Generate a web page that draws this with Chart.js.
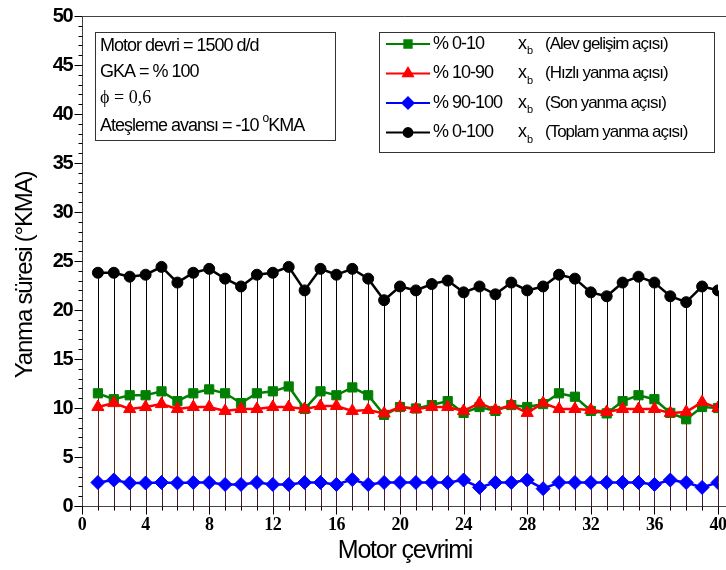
<!DOCTYPE html>
<html>
<head>
<meta charset="utf-8">
<script src="https://cdn.jsdelivr.net/npm/chart.js@4.4.1/dist/chart.umd.min.js"></script>
<style>
  html, body { margin: 0; padding: 0; background: #fff; }
  #wrap { width: 726px; height: 570px; position: relative; }
</style>
</head>
<body>
<div id="wrap"><canvas id="chart"></canvas></div>
<script>
// 40 motor çevrimi
const cycles = [1,2,3,4,5,6,7,8,9,10,11,12,13,14,15,16,17,18,19,20,
  21,22,23,24,25,26,27,28,29,30,31,32,33,34,35,36,37,38,39,40];

// % 0-10 xb (Alev gelişim açısı)
const alevGelisim = [11.5,10.9,11.3,11.3,11.7,10.7,11.5,11.9,11.5,10.5,11.5,11.7,12.2,9.9,11.7,11.3,12.1,11.3,9.3,10.1,
  9.95,10.3,10.7,9.5,10.1,9.7,10.3,10.1,10.4,11.5,11.15,9.7,9.45,10.7,11.3,10.9,9.5,8.85,10.1,10.0];
// % 10-90 xb (Hızlı yanma açısı)
const hizliYanma = [10.1,10.5,9.9,10.1,10.4,9.9,10.1,10.1,9.7,9.9,9.9,10.1,10.1,9.9,10.2,10.2,9.7,9.8,9.45,10.1,
  9.9,10.1,10.1,9.7,10.5,9.8,10.3,9.5,10.5,9.9,9.9,9.8,9.6,9.9,9.9,9.9,9.5,9.6,10.6,10.0];
// % 90-100 xb (Son yanma açısı)
const sonYanma = [2.4,2.65,2.35,2.35,2.4,2.35,2.4,2.4,2.2,2.2,2.4,2.2,2.2,2.4,2.4,2.2,2.7,2.2,2.4,2.4,
  2.4,2.4,2.4,2.65,1.9,2.4,2.4,2.65,1.77,2.4,2.4,2.4,2.4,2.4,2.4,2.2,2.65,2.4,1.9,2.4];
// % 0-100 xb (Toplam yanma açısı)
const toplamYanma = [23.8,23.8,23.4,23.6,24.4,22.8,23.8,24.2,23.2,22.4,23.6,23.8,24.4,22.0,24.2,23.6,24.2,23.2,21.0,22.4,
  22.0,22.65,23.0,21.8,22.4,21.6,22.8,22.0,22.4,23.6,23.2,21.8,21.4,22.8,23.4,22.8,21.4,20.8,22.4,22.0];

const xTicks = [0,4,8,12,16,20,24,28,32,36,40];
const yTicks = [0,5,10,15,20,25,30,35,40,45,50];

const seriesLabels = ['% 0-10', '% 10-90', '% 90-100', '% 0-100'];
const seriesNotes = ['(Alev gelişim açısı)', '(Hızlı yanma açısı)', '(Son yanma açısı)', '(Toplam yanma açısı)'];
const infoLines = ['Motor devri = 1500 d/d', 'GKA = % 100', 'ϕ = 0,6', 'Ateşleme avansı = -10 '];

const SANS = '"Liberation Sans", Arial, sans-serif';
const SERIF = '"Liberation Serif", "Times New Roman", serif';

const toPts = (arr) => arr.map((v, i) => ({ x: cycles[i], y: v }));

// eksenler, çentikler, düşey çizgiler ve kutular
const decor = {
  id: 'decor',
  beforeDatasetsDraw(chart) {
    const ctx = chart.ctx;
    const xs = chart.scales.x, ys = chart.scales.y;
    const y0 = ys.getPixelForValue(0);
    ctx.save();
    ctx.lineWidth = 1;
    cycles.forEach((c, i) => {
      const px = Math.round(xs.getPixelForValue(c)) + 0.5;
      const yTop = ys.getPixelForValue(toplamYanma[i]);
      const yMid = ys.getPixelForValue(Math.max(alevGelisim[i], hizliYanma[i]));
      const yLow = ys.getPixelForValue(sonYanma[i]);
      ctx.strokeStyle = '#000';
      ctx.beginPath(); ctx.moveTo(px, yTop); ctx.lineTo(px, yMid); ctx.stroke();
      ctx.strokeStyle = '#5a2618';
      ctx.beginPath(); ctx.moveTo(px, yMid); ctx.lineTo(px, yLow); ctx.stroke();
      ctx.strokeStyle = '#3e1a38';
      ctx.beginPath(); ctx.moveTo(px, yLow); ctx.lineTo(px, y0); ctx.stroke();
    });
    ctx.restore();
  },
  afterDraw(chart) {
    const ctx = chart.ctx;
    const xs = chart.scales.x, ys = chart.scales.y;
    const area = chart.chartArea;
    const left = Math.round(area.left) + 0.5;
    const bottom = Math.round(area.bottom) + 0.5;
    const top = Math.round(area.top) + 0.5;
    ctx.save();
    ctx.strokeStyle = '#444';
    ctx.lineWidth = 1;
    // çerçeve
    ctx.beginPath();
    ctx.moveTo(left, top); ctx.lineTo(726, top);
    ctx.moveTo(left, top); ctx.lineTo(left, bottom);
    ctx.moveTo(left - 8, bottom); ctx.lineTo(726, bottom);
    ctx.stroke();

    // y çentikleri
    ctx.strokeStyle = '#000';
    ctx.beginPath();
    for (let v = 0; v <= 50; v++) {
      const py = Math.round(ys.getPixelForValue(v)) + 0.5;
      const len = v % 5 === 0 ? 8 : 4;
      ctx.moveTo(left - len, py); ctx.lineTo(left, py);
    }
    // x çentikleri
    for (let v = 0; v <= 40; v++) {
      const px = Math.round(xs.getPixelForValue(v)) + 0.5;
      const len = v % 4 === 0 ? 8 : 4;
      ctx.moveTo(px, bottom); ctx.lineTo(px, bottom + len);
    }
    ctx.stroke();

    // tick etiketleri
    ctx.fillStyle = '#000';
    ctx.font = 'bold 20px ' + SANS;
    ctx.letterSpacing = '-1.5px';
    ctx.textAlign = 'right';
    ctx.textBaseline = 'middle';
    yTicks.forEach(v => ctx.fillText(String(v), 72, ys.getPixelForValue(v)));

    ctx.font = 'bold 18px ' + SERIF;
    ctx.letterSpacing = '-0.5px';
    ctx.textAlign = 'center';
    ctx.textBaseline = 'top';
    xTicks.forEach(v => ctx.fillText(String(v), xs.getPixelForValue(v), 516));

    // eksen başlıkları
    ctx.font = '25px ' + SANS;
    ctx.letterSpacing = '-1.2px';
    ctx.textBaseline = 'middle';
    ctx.fillText('Motor çevrimi', 405, 551);
    ctx.save();
    ctx.translate(25, 275);
    ctx.rotate(-Math.PI / 2);
    ctx.font = '24px ' + SANS;
    ctx.fillText('Yanma süresi (°KMA)', 0, 0);
    ctx.restore();

    // bilgi kutusu
    ctx.strokeStyle = '#333';
    ctx.strokeRect(95.5, 32.5, 240, 108);
    ctx.textAlign = 'left';
    ctx.font = '18px ' + SANS;
    ctx.letterSpacing = '-1px';
    ctx.fillText(infoLines[0], 100, 46);
    ctx.fillText(infoLines[1], 100, 72);
    ctx.font = '18px ' + SERIF;
    ctx.letterSpacing = '0px';
    ctx.fillText(infoLines[2], 100, 98);
    ctx.font = '18px ' + SANS;
    ctx.letterSpacing = '-1px';
    ctx.fillText(infoLines[3], 100, 126);
    let w = ctx.measureText(infoLines[3]).width + 100;
    ctx.font = '12px ' + SANS;
    ctx.fillText('o', w, 119);
    w += ctx.measureText('o').width;
    ctx.font = '18px ' + SANS;
    ctx.fillText('KMA', w, 126);

    // lejant
    ctx.strokeRect(379.5, 32.5, 335, 120);
    chart.data.datasets.forEach((ds, i) => {
      const cy = 44 + i * 29.5;
      ctx.strokeStyle = ds.borderColor;
      ctx.lineWidth = 2;
      ctx.beginPath(); ctx.moveTo(386, cy); ctx.lineTo(430, cy); ctx.stroke();
      Chart.helpers.drawPoint(ctx, {
        pointStyle: ds.pointStyle, radius: ds.pointRadius * 0.8, borderWidth: 1, rotation: 0
      }, 408, cy);
      ctx.fillStyle = ds.backgroundColor;
      ctx.fill();
      ctx.fillStyle = '#000';
      ctx.font = '18px ' + SANS;
      ctx.letterSpacing = '-1px';
      ctx.fillText(seriesLabels[i], 433, cy);
      ctx.fillText('x', 518, cy);
      ctx.font = '11px ' + SANS;
      ctx.fillText('b', 527, cy + 7);
      ctx.font = '17px ' + SANS;
      ctx.fillText(seriesNotes[i], 545, cy);
    });
    ctx.restore();
  }
};

const mkSet = (label, data, color, style, radius, order) => ({
  label: label,
  data: toPts(data),
  borderColor: color,
  backgroundColor: color,
  pointBackgroundColor: color,
  pointBorderColor: color,
  pointStyle: style,
  pointRadius: radius,
  pointBorderWidth: 1,
  borderWidth: 2.5,
  tension: 0,
  order: order
});

new Chart(document.getElementById('chart').getContext('2d'), {
  type: 'line',
  data: {
    datasets: [
      mkSet(seriesLabels[0], alevGelisim, '#008000', 'rect', 6.5, 2),
      mkSet(seriesLabels[1], hizliYanma, '#ff0000', 'triangle', 7, 1),
      mkSet(seriesLabels[2], sonYanma, '#0000ff', 'rectRot', 7, 3),
      mkSet(seriesLabels[3], toplamYanma, '#000000', 'circle', 5.5, 0)
    ]
  },
  options: {
    responsive: true,
    maintainAspectRatio: false,
    animation: false,
    layout: { padding: { left: 82, top: 16, right: 8, bottom: 64 } },
    plugins: { legend: { display: false }, tooltip: { enabled: false } },
    scales: {
      x: { type: 'linear', min: 0, max: 40, display: false },
      y: { type: 'linear', min: 0, max: 50, display: false }
    }
  },
  plugins: [decor]
});
</script>
</body>
</html>
